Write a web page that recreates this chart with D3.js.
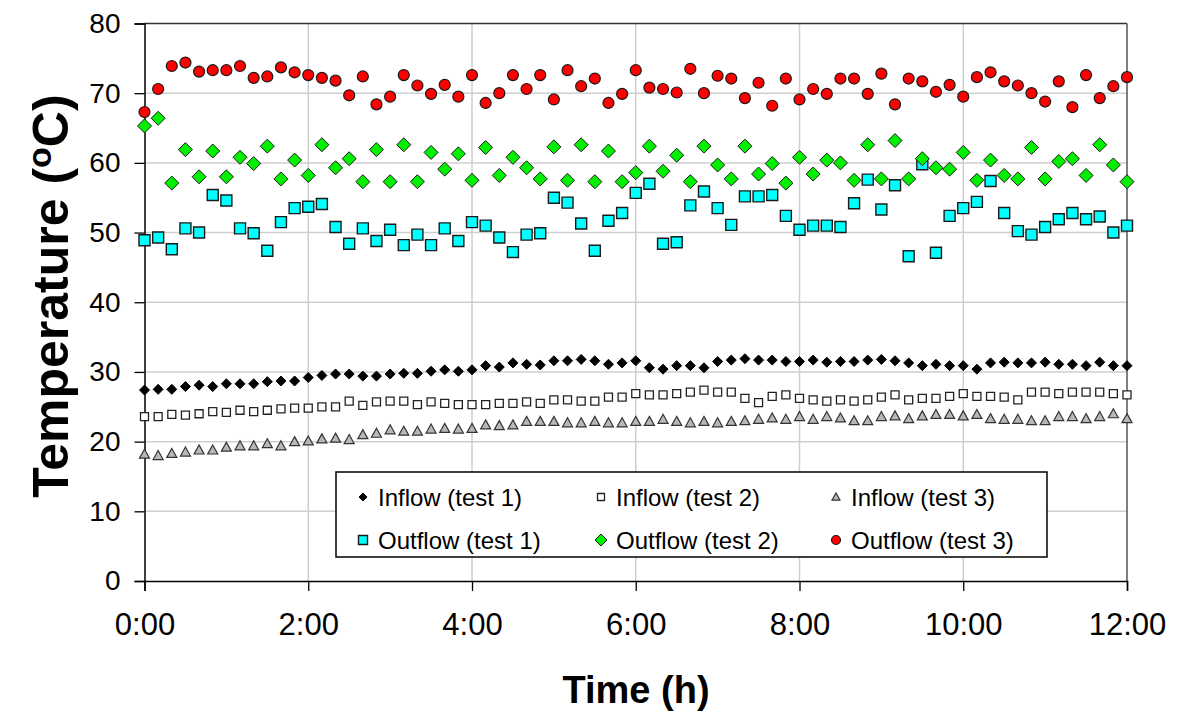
<!DOCTYPE html>
<html>
<head>
<meta charset="utf-8">
<script src="https://cdn.jsdelivr.net/npm/d3@7"></script>
<style>
  html, body { margin: 0; padding: 0; background: #fff; }
  svg { display: block; }
  text { font-family: Arial, "Liberation Sans", sans-serif; fill: #000; }
</style>
</head>
<body>
<svg id="chart" width="1178" height="714"></svg>
<script>
// Sampling times: every 10 minutes from 0:00 to 12:00
const minutes = d3.range(0, 721, 10);

const inflow1 = [27.4,27.5,27.5,27.9,28.1,27.9,28.3,28.3,28.3,28.6,28.7,28.7,29.2,29.5,29.7,29.7,29.4,29.4,29.7,
  29.8,29.8,30.1,30.3,30.1,30.3,30.9,30.7,31.3,31.1,31.0,31.6,31.6,31.8,31.6,31.1,31.3,31.6,
  30.6,30.4,30.9,30.9,30.6,31.5,31.7,31.9,31.7,31.7,31.5,31.5,31.7,31.4,31.5,31.5,31.7,31.8,
  31.6,31.3,30.9,31.1,30.9,30.9,30.4,31.3,31.4,31.3,31.3,31.4,31.1,31.1,30.9,31.4,30.9,30.9];

const inflow2 = [23.6,23.6,23.9,23.8,24.0,24.3,24.2,24.5,24.3,24.5,24.7,24.8,24.8,25.0,25.0,25.8,25.2,25.7,25.8,
  25.8,25.3,25.7,25.5,25.3,25.3,25.3,25.5,25.5,25.7,25.5,26.0,26.0,25.8,25.8,26.4,26.4,26.9,
  26.7,26.7,26.9,27.1,27.4,27.1,27.1,26.2,25.6,26.5,26.7,26.2,26.0,25.8,26.0,25.8,26.0,26.4,
  26.7,26.0,26.2,26.2,26.5,26.9,26.5,26.5,26.4,26.0,27.1,27.1,26.9,27.1,27.1,27.1,26.9,26.7];

const inflow3 = [18.2,18.0,18.3,18.5,18.8,18.8,19.2,19.4,19.4,19.7,19.4,20.0,20.1,20.4,20.5,20.3,21.0,21.2,21.7,
  21.5,21.5,21.8,21.9,21.8,21.9,22.4,22.3,22.4,22.9,22.9,22.9,22.7,22.7,22.9,22.7,22.7,22.9,
  22.9,23.2,22.9,22.7,22.9,22.7,22.9,23.0,23.2,23.4,23.2,23.6,23.2,23.6,23.4,23.0,23.0,23.6,
  23.7,23.3,23.7,23.9,23.9,23.7,23.9,23.3,23.2,23.2,23.0,23.0,23.6,23.6,23.3,23.6,24.0,23.3];

const outflow1 = [48.9,49.3,47.6,50.6,50.0,55.4,54.6,50.6,49.9,47.4,51.5,53.5,53.7,54.1,50.8,48.4,50.6,48.8,50.4,
  48.2,49.7,48.2,50.6,48.8,51.5,51.0,49.3,47.2,49.7,49.9,55.0,54.3,51.3,47.4,51.7,52.8,55.7,
  57.0,48.4,48.6,53.9,55.9,53.5,51.1,55.2,55.2,55.4,52.4,50.4,51.0,51.0,50.8,54.2,57.6,53.3,
  56.8,46.6,59.8,47.1,52.4,53.5,54.4,57.4,52.8,50.2,49.7,50.8,51.9,52.8,51.9,52.3,50.0,51.0];

const outflow2 = [65.3,66.4,57.1,61.9,58.0,61.7,58.0,60.8,59.9,62.4,57.7,60.4,58.2,62.6,59.3,60.6,57.3,61.9,57.3,
  62.6,57.3,61.5,59.1,61.3,57.5,62.2,58.2,60.8,59.3,57.7,62.3,57.5,62.6,57.3,61.7,57.3,58.6,
  62.4,58.8,61.1,57.3,62.4,59.7,57.7,62.4,58.4,59.9,57.1,60.8,58.4,60.4,60.0,57.5,62.6,57.7,
  63.2,57.7,60.6,59.3,59.1,61.5,57.5,60.4,58.2,57.7,62.2,57.7,60.2,60.6,58.2,62.6,59.7,57.3];

const outflow3 = [67.3,70.6,73.9,74.4,73.1,73.3,73.3,73.9,72.2,72.4,73.7,73.0,72.6,72.2,71.8,69.7,72.4,68.4,69.5,
  72.6,71.1,69.9,71.2,69.5,72.6,68.6,70.0,72.6,70.6,72.6,69.1,73.3,71.0,72.1,68.6,69.9,73.3,
  70.8,70.6,70.1,73.5,70.0,72.5,72.1,69.3,71.5,68.2,72.1,69.1,70.6,69.9,72.1,72.1,69.9,72.8,
  68.4,72.1,71.7,70.2,71.2,69.5,72.3,73.0,71.7,71.1,70.0,68.8,71.7,68.0,72.6,69.3,71.0,72.3];

const yTicks = [0, 10, 20, 30, 40, 50, 60, 70, 80];
const xTicks = [0, 120, 240, 360, 480, 600, 720];
const xTickLabels = ["0:00", "2:00", "4:00", "6:00", "8:00", "10:00", "12:00"];

const seriesNames = ["Inflow (test 1)", "Inflow (test 2)", "Inflow (test 3)",
                     "Outflow (test 1)", "Outflow (test 2)", "Outflow (test 3)"];

// Marker shapes (path generators centred on 0,0)
const shapes = {
  diamond: r => `M0,${-r}L${r},0L0,${r}L${-r},0Z`,
  square: r => `M${-r},${-r}H${r}V${r}H${-r}Z`,
  triangle: r => `M0,${-r}L${r},${r * 0.8}L${-r},${r * 0.8}Z`,
  circle: r => `M${r},0A${r},${r} 0 1,1 ${-r},0A${r},${r} 0 1,1 ${r},0Z`
};

const series = [
  { name: seriesNames[0], values: inflow1, shape: "diamond", r: 5, legR: 4, fill: "#000", stroke: "#000", sw: 1 },
  { name: seriesNames[1], values: inflow2, shape: "square", r: 4, legR: 3.5, fill: "#fff", stroke: "#222", sw: 1.3 },
  { name: seriesNames[2], values: inflow3, shape: "triangle", r: 5, legR: 4, fill: "#b8b8b8", stroke: "#333", sw: 1.2 },
  { name: seriesNames[3], values: outflow1, shape: "square", r: 5.5, legR: 4.5, fill: "#00ffff", stroke: "#1a1a1a", sw: 1.4 },
  { name: seriesNames[4], values: outflow2, shape: "diamond", r: 7, legR: 6, fill: "#00f000", stroke: "#1a1a1a", sw: 1 },
  { name: seriesNames[5], values: outflow3, shape: "circle", r: 5.5, legR: 4.5, fill: "#ff0000", stroke: "#1a1a1a", sw: 1.2 }
];

const svg = d3.select("#chart");
const plot = { left: 144.5, right: 1127, top: 23.5, bottom: 581 };

const x = d3.scaleLinear().domain([0, 720]).range([plot.left, plot.right]);
const y = d3.scaleLinear().domain([0, 80]).range([plot.bottom, plot.top]);

// Grid
svg.append("g").attr("class", "grid")
  .selectAll("line.h").data(yTicks.filter(t => t > 0 && t < 80)).join("line")
  .attr("x1", plot.left).attr("x2", plot.right)
  .attr("y1", d => y(d)).attr("y2", d => y(d))
  .attr("stroke", "#cfcfcf").attr("stroke-width", 1.5);
svg.select("g.grid")
  .selectAll("line.v").data(xTicks.filter(t => t > 0 && t < 720)).join("line")
  .attr("x1", d => x(d)).attr("x2", d => x(d))
  .attr("y1", plot.top).attr("y2", plot.bottom)
  .attr("stroke", "#cfcfcf").attr("stroke-width", 1.5);

// Plot frame (top and right)
svg.append("line").attr("x1", plot.left).attr("x2", plot.right)
  .attr("y1", plot.top).attr("y2", plot.top).attr("stroke", "#333").attr("stroke-width", 1.5);
svg.append("line").attr("x1", plot.right).attr("x2", plot.right)
  .attr("y1", plot.top).attr("y2", plot.bottom).attr("stroke", "#555").attr("stroke-width", 1.5);

// Y axis
const yAxis = svg.append("g")
  .attr("transform", `translate(${plot.left},0)`)
  .call(d3.axisLeft(y).tickValues(yTicks).tickSize(10).tickPadding(14).tickFormat(d3.format("d")));
yAxis.select(".domain").attr("stroke", "#000").attr("stroke-width", 1.5);
yAxis.selectAll(".tick line").attr("stroke", "#000").attr("stroke-width", 1.3);
yAxis.selectAll(".tick text").attr("font-size", 28).attr("font-family", "Arial, 'Liberation Sans', sans-serif");

// X axis
const xAxis = svg.append("g")
  .attr("transform", `translate(0,${plot.bottom})`)
  .call(d3.axisBottom(x).tickValues(xTicks).tickSize(10).tickPadding(22)
    .tickFormat((d, i) => xTickLabels[i]));
xAxis.select(".domain").attr("stroke", "#000").attr("stroke-width", 1.5);
xAxis.selectAll(".tick line").attr("stroke", "#000").attr("stroke-width", 1.3);
xAxis.selectAll(".tick text").attr("font-size", 31).attr("font-family", "Arial, 'Liberation Sans', sans-serif");

// Axis titles
svg.append("text")
  .attr("x", 636).attr("y", 703)
  .attr("text-anchor", "middle")
  .attr("font-size", 38).attr("font-weight", "bold")
  .text("Time (h)");

const yTitle = svg.append("text")
  .attr("transform", "translate(68,296) rotate(-90)")
  .attr("text-anchor", "middle")
  .attr("font-size", 50).attr("font-weight", "bold");
yTitle.append("tspan").text("Temperature (");
yTitle.append("tspan").attr("font-size", 34).attr("dy", -17).text("o");
yTitle.append("tspan").attr("dy", 17).text("C)");

// Data points
series.forEach(s => {
  svg.append("g")
    .selectAll("path").data(s.values.map((v, i) => ({ t: minutes[i], v }))).join("path")
    .attr("transform", d => `translate(${x(d.t)},${y(d.v)})`)
    .attr("d", shapes[s.shape](s.r))
    .attr("fill", s.fill).attr("stroke", s.stroke).attr("stroke-width", s.sw);
});

// Legend
const legend = svg.append("g").attr("transform", "translate(336,472)");
legend.append("rect").attr("width", 711).attr("height", 85)
  .attr("fill", "#fff").attr("stroke", "#000").attr("stroke-width", 1.5);
const colX = [27, 265, 500];
const rowY = [25, 68];
series.forEach((s, i) => {
  const cx = colX[i % 3], cy = rowY[Math.floor(i / 3)];
  legend.append("path")
    .attr("transform", `translate(${cx},${cy})`)
    .attr("d", shapes[s.shape](s.legR))
    .attr("fill", s.fill).attr("stroke", s.stroke).attr("stroke-width", s.sw);
  legend.append("text")
    .attr("x", cx + 15).attr("y", cy + 8.5)
    .attr("font-size", 24)
    .text(s.name);
});
</script>
</body>
</html>
